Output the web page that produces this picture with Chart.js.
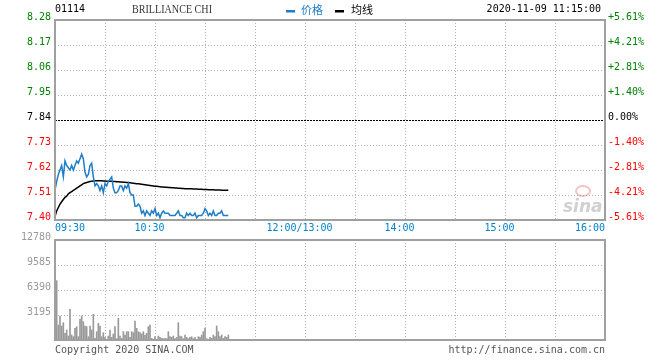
<!DOCTYPE html>
<html>
<head>
<meta charset="utf-8">
<script src="https://cdn.jsdelivr.net/npm/chart.js@4"></script>
<style>
  html, body { margin: 0; padding: 0; background: #fff; }
  #wrap { position: relative; width: 660px; height: 360px; }
  canvas { position: absolute; left: 0; top: 0; }
</style>
</head>
<body>
<div id="wrap">
  <canvas id="vol" width="660" height="360"></canvas>
  <canvas id="price" width="660" height="360"></canvas>
</div>
<script>
// ─── data ─────────────────────────────────────────────
const stockCode = '01114';
const stockName = 'BRILLIANCE CHI';
const stamp = '2020-11-09 11:15:00';

const priceTicks = [8.28, 8.17, 8.06, 7.95, 7.84, 7.73, 7.62, 7.51, 7.40];
const pctTicks = ['+5.61%', '+4.21%', '+2.81%', '+1.40%', '0.00%', '-1.40%', '-2.81%', '-4.21%', '-5.61%'];
const volTicks = [12780, 9585, 6390, 3195];

// minutes since 09:30 on the HK session axis (lunch break collapsed)
const gridMinutes = [30, 60, 90, 120, 150, 180, 210, 240, 270, 300];
const timeLabels = ['09:30', '10:30', '12:00/13:00', '14:00', '15:00', '16:00'];
const timeLabelMinutes = [0, 60, 150, 210, 270, 330];

// one point per minute from 09:30
const price = [
  7.53, 7.57, 7.60, 7.62, 7.64, 7.59, 7.66, 7.64, 7.63, 7.62,
  7.64, 7.62, 7.64, 7.66, 7.65, 7.67, 7.69, 7.67, 7.61, 7.59,
  7.60, 7.64, 7.65, 7.59, 7.55, 7.56, 7.55, 7.53, 7.55, 7.52,
  7.56, 7.55, 7.57, 7.58, 7.59, 7.54, 7.52, 7.52, 7.53, 7.55,
  7.55, 7.53, 7.55, 7.54, 7.56, 7.52, 7.51, 7.51, 7.46, 7.46,
  7.47, 7.46, 7.43, 7.44, 7.42, 7.44, 7.43, 7.42, 7.44, 7.43,
  7.45, 7.42, 7.43, 7.41, 7.43, 7.44, 7.43, 7.43, 7.43, 7.42,
  7.42, 7.42, 7.42, 7.43, 7.44, 7.42, 7.42, 7.41, 7.41, 7.43,
  7.42, 7.43, 7.42, 7.42, 7.43, 7.41, 7.42, 7.42, 7.42, 7.43,
  7.45, 7.44, 7.42, 7.43, 7.42, 7.44, 7.42, 7.42, 7.43, 7.43,
  7.44, 7.42, 7.42, 7.42, 7.42
];
const avgPrice = [
  7.415, 7.440, 7.455, 7.470, 7.480, 7.490, 7.500, 7.505, 7.515, 7.520,
  7.525, 7.530, 7.535, 7.540, 7.545, 7.550, 7.555, 7.560, 7.563, 7.565,
  7.567, 7.569, 7.571, 7.572, 7.573, 7.573, 7.573, 7.573, 7.573, 7.572,
  7.572, 7.571, 7.571, 7.570, 7.570, 7.569, 7.569, 7.568, 7.568, 7.567,
  7.567, 7.566, 7.566, 7.565, 7.565, 7.564, 7.563, 7.562, 7.561, 7.560,
  7.559, 7.558, 7.557, 7.556, 7.555, 7.554, 7.553, 7.552, 7.551, 7.550,
  7.549, 7.548, 7.547, 7.546, 7.545, 7.545, 7.544, 7.544, 7.543, 7.543,
  7.542, 7.542, 7.541, 7.541, 7.540, 7.540, 7.539, 7.539, 7.538, 7.538,
  7.537, 7.537, 7.537, 7.536, 7.536, 7.536, 7.535, 7.535, 7.535, 7.534,
  7.534, 7.534, 7.533, 7.533, 7.533, 7.533, 7.532, 7.532, 7.532, 7.532,
  7.531, 7.531, 7.531, 7.531, 7.531
];
// one bar per minute from 09:31
const volume = [
  7580, 1917, 3067, 1789, 2215, 852, 1278, 511, 3919, 639,
  426, 1491, 1704, 426, 2641, 3067, 2343, 1789, 1704, 426,
  1789, 1278, 3280, 213, 1065, 2130, 1789, 426, 937, 341,
  85, 511, 1278, 341, 767, 1704, 170, 2769, 511, 213,
  1065, 639, 1065, 1065, 341, 1065, 937, 2428, 1491, 1065,
  937, 767, 1065, 639, 852, 1704, 1917, 213, 85, 426,
  85, 511, 341, 213, 170, 213, 170, 1065, 426, 341,
  511, 170, 341, 2215, 511, 426, 170, 639, 341, 170,
  341, 426, 170, 341, 85, 426, 341, 639, 1065, 1491,
  170, 85, 341, 213, 639, 426, 1789, 1065, 426, 639,
  213, 426, 341, 639
];

// ─── helpers ──────────────────────────────────────────
const MONO = '10px "DejaVu Sans Mono", "Liberation Mono", monospace';
const CJK = '11px "Noto Sans CJK SC", sans-serif';
const BLUE = '#1e7ec8';

function seg(ctx, x1, y1, x2, y2) {
  ctx.beginPath(); ctx.moveTo(x1, y1); ctx.lineTo(x2, y2); ctx.stroke();
}
function tickColor(i) { return i < 4 ? '#008000' : (i === 4 ? '#000000' : '#ff0000'); }

function drawVGrid(ctx, a, x) {
  ctx.strokeStyle = '#b0b0b0'; ctx.lineWidth = 1; ctx.setLineDash([1, 2]);
  gridMinutes.forEach(m => {
    const px = Math.round(x.getPixelForValue(m)) + 0.5;
    seg(ctx, px, a.top, px, a.bottom);
  });
}

// ─── price panel ──────────────────────────────────────
const priceDecor = {
  id: 'priceDecor',
  beforeDatasetsDraw(chart) {
    const {ctx, chartArea: a, scales: {x, y}} = chart;
    ctx.save();
    drawVGrid(ctx, a, x);
    priceTicks.forEach((v, i) => {
      if (i === 0 || i === 4 || i === priceTicks.length - 1) return;
      const py = Math.round(y.getPixelForValue(v)) + 0.5;
      seg(ctx, a.left, py, a.right, py);
    });
    // previous close
    ctx.strokeStyle = '#000'; ctx.setLineDash([2, 1]);
    const pc = Math.round(y.getPixelForValue(priceTicks[4])) + 0.5;
    seg(ctx, a.left, pc, a.right, pc);
    // watermark
    ctx.setLineDash([]);
    ctx.strokeStyle = 'rgba(235,120,120,0.45)'; ctx.lineWidth = 2;
    ctx.beginPath(); ctx.ellipse(583, 191, 7, 5, 0, 0, Math.PI * 2); ctx.stroke();
    ctx.fillStyle = 'rgba(150,150,150,0.45)';
    ctx.font = 'italic bold 17px "DejaVu Sans", sans-serif';
    ctx.textAlign = 'left'; ctx.textBaseline = 'alphabetic';
    ctx.fillText('sina', 563, 212);
    ctx.restore();
  },
  afterDatasetsDraw(chart) {
    const {ctx, chartArea: a, scales: {x, y}} = chart;
    ctx.save();
    ctx.strokeStyle = '#a0a0a0'; ctx.lineWidth = 2;
    ctx.strokeRect(a.left, a.top, a.right - a.left, a.bottom - a.top);

    ctx.font = MONO; ctx.textBaseline = 'middle';
    priceTicks.forEach((v, i) => {
      const py = y.getPixelForValue(v) - 3;
      ctx.fillStyle = tickColor(i);
      ctx.textAlign = 'right';
      ctx.fillText(v.toFixed(2), a.left - 4, py);
      ctx.textAlign = 'left';
      ctx.fillText(pctTicks[i], a.right + 3, py);
    });

    ctx.fillStyle = '#0083c8';
    timeLabels.forEach((t, i) => {
      const px = x.getPixelForValue(timeLabelMinutes[i]);
      if (i === 0) { ctx.textAlign = 'left'; ctx.fillText(t, px, 228); }
      else if (i === timeLabels.length - 1) { ctx.textAlign = 'right'; ctx.fillText(t, px, 228); }
      else { ctx.textAlign = 'center'; ctx.fillText(t, px - 5.5, 228); }
    });

    // header
    ctx.fillStyle = '#000'; ctx.textAlign = 'left';
    ctx.fillText(stockCode, 55, 9);
    ctx.fillStyle = '#333';
    ctx.font = '12px "Liberation Serif", serif';
    ctx.fillText(stockName, 132, 10, 80);
    ctx.fillStyle = BLUE; ctx.fillRect(286, 10, 9, 2.5);
    ctx.font = CJK; ctx.fillText('价格', 301, 10);
    ctx.fillStyle = '#000'; ctx.fillRect(335, 10, 9, 2.5);
    ctx.fillText('均线', 351, 10);
    ctx.font = MONO; ctx.textAlign = 'right';
    ctx.fillText(stamp, 601, 9);

    // footer
    ctx.fillStyle = '#555';
    ctx.textAlign = 'left';
    ctx.fillText('Copyright 2020 SINA.COM', 55, 350);
    ctx.textAlign = 'right';
    ctx.fillText('http://finance.sina.com.cn', 605, 350);
    ctx.restore();
  }
};

new Chart(document.getElementById('price'), {
  type: 'line',
  data: {
    datasets: [
      { label: '价格', data: price.map((v, i) => ({x: i, y: v})), borderColor: BLUE, borderWidth: 1.5, pointRadius: 0, tension: 0 },
      { label: '均线', data: avgPrice.map((v, i) => ({x: i, y: v})), borderColor: '#000', borderWidth: 1.5, pointRadius: 0, tension: 0 }
    ]
  },
  options: {
    responsive: false, animation: false, events: [],
    layout: { padding: { left: 55, right: 55, top: 20, bottom: 140 } },
    plugins: { legend: { display: false }, tooltip: { enabled: false } },
    scales: {
      x: { type: 'linear', min: 0, max: 330, display: false },
      y: { min: priceTicks[priceTicks.length - 1], max: priceTicks[0], display: false }
    }
  },
  plugins: [priceDecor]
});

// ─── volume panel ─────────────────────────────────────
const volDecor = {
  id: 'volDecor',
  beforeDatasetsDraw(chart) {
    const {ctx, chartArea: a, scales: {x, y}} = chart;
    ctx.save();
    drawVGrid(ctx, a, x);
    volTicks.slice(1).forEach(v => {
      const py = Math.round(y.getPixelForValue(v)) + 0.5;
      seg(ctx, a.left, py, a.right, py);
    });
    ctx.restore();
  },
  afterDatasetsDraw(chart) {
    const {ctx, chartArea: a, scales: {y}} = chart;
    ctx.save();
    ctx.strokeStyle = '#a0a0a0'; ctx.lineWidth = 2;
    ctx.strokeRect(a.left, a.top, a.right - a.left, a.bottom - a.top);
    ctx.font = MONO; ctx.textBaseline = 'middle'; ctx.textAlign = 'right';
    ctx.fillStyle = '#999';
    volTicks.forEach(v => ctx.fillText(String(v), a.left - 4, y.getPixelForValue(v) - 3));
    ctx.restore();
  }
};

new Chart(document.getElementById('vol'), {
  type: 'bar',
  data: {
    datasets: [{ data: volume.map((v, i) => ({x: i + 1, y: v})), backgroundColor: '#999999', barThickness: 1 }]
  },
  options: {
    responsive: false, animation: false, events: [],
    layout: { padding: { left: 55, right: 55, top: 240, bottom: 20 } },
    plugins: { legend: { display: false }, tooltip: { enabled: false } },
    scales: {
      x: { type: 'linear', min: 0, max: 330, offset: false, display: false },
      y: { min: 0, max: volTicks[0], display: false }
    }
  },
  plugins: [volDecor]
});
</script>
</body>
</html>
